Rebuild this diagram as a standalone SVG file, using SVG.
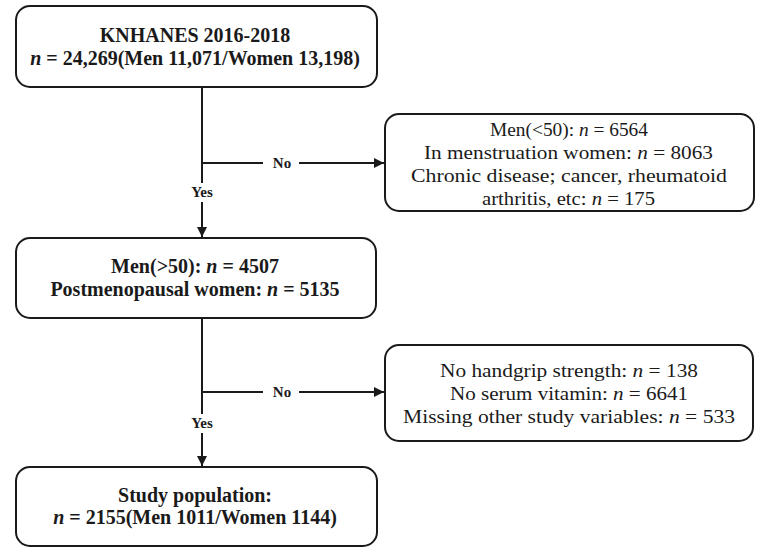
<svg xmlns="http://www.w3.org/2000/svg" width="761" height="552" viewBox="0 0 761 552">
<defs>
<style>
.box{fill:#fff;stroke:#1a1a1a;stroke-width:2}
.t{font-family:"Liberation Serif","Times New Roman",serif;font-size:20px;fill:#1a1a1a;text-anchor:middle}
.r{font-size:19.5px}
.b{font-weight:bold}
.lbl{font-family:"Liberation Serif","Times New Roman",serif;font-size:15px;font-weight:bold;fill:#1a1a1a;text-anchor:middle}
.ln{stroke:#1a1a1a;stroke-width:2;fill:none}
.i{font-style:italic}
</style>
<marker id="arr" viewBox="0 0 10 10" refX="10" refY="5" markerWidth="11" markerHeight="10" markerUnits="userSpaceOnUse" orient="auto">
<path d="M0,0 L10,5 L0,10 z" fill="#1a1a1a"/>
</marker>
</defs>
<rect width="761" height="552" fill="#fff"/>
<g id="connectors">
<path class="ln" d="M202,87 V183"/>
<path class="ln" d="M202,202 V237" marker-end="url(#arr)"/>
<path class="ln" d="M202,163 H263"/>
<path class="ln" d="M299,163 H384" marker-end="url(#arr)"/>
<text class="lbl" x="282" y="168">No</text>
<text class="lbl" x="202" y="197">Yes</text>
<path class="ln" d="M202,318 V414"/>
<path class="ln" d="M202,433 V466" marker-end="url(#arr)"/>
<path class="ln" d="M202,392 H263"/>
<path class="ln" d="M299,392 H384" marker-end="url(#arr)"/>
<text class="lbl" x="282" y="397">No</text>
<text class="lbl" x="202" y="428">Yes</text>
</g>
<g id="n1">
<rect class="box" x="16" y="6" width="361" height="81" rx="14"/>
<text class="t b" x="195" y="42">KNHANES 2016-2018</text>
<text class="t b" x="195" y="65"><tspan class="i">n</tspan> = 24,269(Men 11,071/Women 13,198)</text>
</g>
<g id="n2">
<rect class="box" x="385" y="114" width="369" height="97" rx="14"/>
<text class="t r" x="569" y="135.5" textLength="158" lengthAdjust="spacingAndGlyphs">Men(&lt;50): <tspan class="i">n</tspan> = 6564</text>
<text class="t r" x="568.5" y="158.5" textLength="289" lengthAdjust="spacingAndGlyphs">In menstruation women: <tspan class="i">n</tspan> = 8063</text>
<text class="t r" x="569" y="181.5" textLength="316" lengthAdjust="spacingAndGlyphs">Chronic disease; cancer, rheumatoid</text>
<text class="t r" x="568.5" y="204.5" textLength="173" lengthAdjust="spacingAndGlyphs">arthritis, etc: <tspan class="i">n</tspan> = 175</text>
</g>
<g id="n3">
<rect class="box" x="16" y="238" width="360" height="80" rx="14"/>
<text class="t b" x="195" y="273">Men(&gt;50): <tspan class="i">n</tspan> = 4507</text>
<text class="t b" x="195" y="296">Postmenopausal women: <tspan class="i">n</tspan> = 5135</text>
</g>
<g id="n4">
<rect class="box" x="385" y="345" width="368" height="96" rx="14"/>
<text class="t r" x="569" y="376.5" textLength="258" lengthAdjust="spacingAndGlyphs">No handgrip strength: <tspan class="i">n</tspan> = 138</text>
<text class="t r" x="569" y="399.5" textLength="238" lengthAdjust="spacingAndGlyphs">No serum vitamin: <tspan class="i">n</tspan> = 6641</text>
<text class="t r" x="569" y="422.5" textLength="332" lengthAdjust="spacingAndGlyphs">Missing other study variables: <tspan class="i">n</tspan> = 533</text>
</g>
<g id="n5">
<rect class="box" x="16" y="467" width="361" height="79" rx="14"/>
<text class="t b" x="195" y="502">Study population:</text>
<text class="t b" x="195" y="524"><tspan class="i">n</tspan> = 2155(Men 1011/Women 1144)</text>
</g>
</svg>
